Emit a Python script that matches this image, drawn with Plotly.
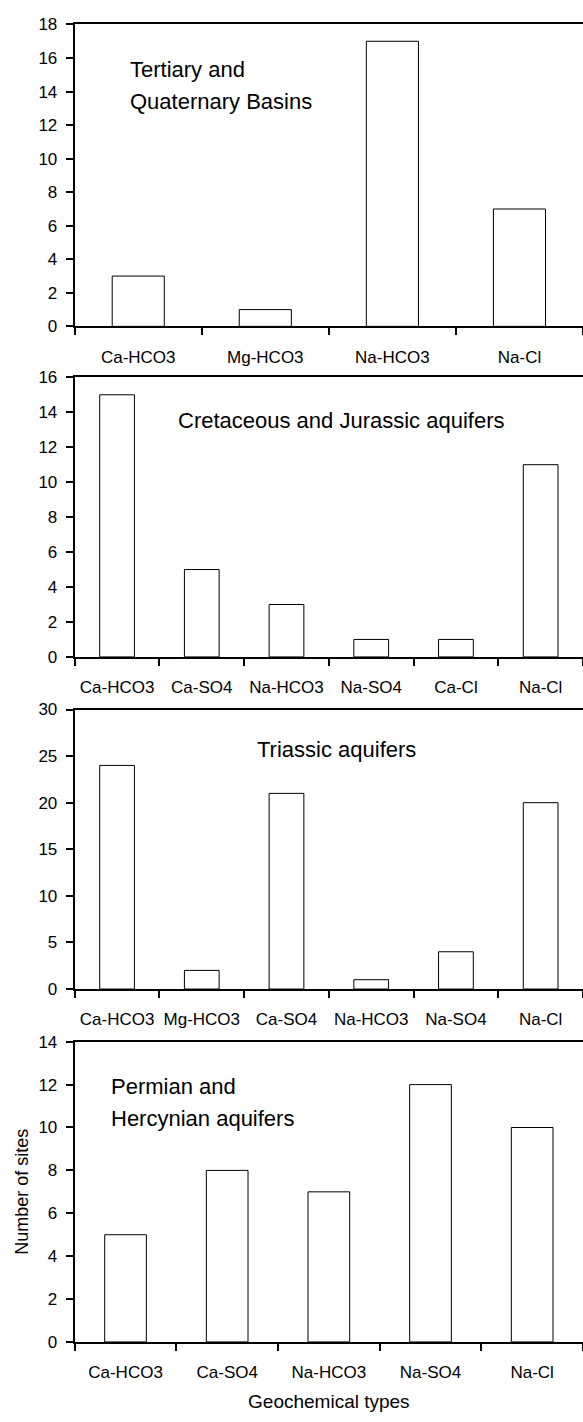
import plotly.graph_objects as go

# ---- data ----
cats1 = ["Ca-HCO3", "Mg-HCO3", "Na-HCO3", "Na-Cl"]
vals1 = [3, 1, 17, 7]
cats2 = ["Ca-HCO3", "Ca-SO4", "Na-HCO3", "Na-SO4", "Ca-Cl", "Na-Cl"]
vals2 = [15, 5, 3, 1, 1, 11]
cats3 = ["Ca-HCO3", "Mg-HCO3", "Ca-SO4", "Na-HCO3", "Na-SO4", "Na-Cl"]
vals3 = [24, 2, 21, 1, 4, 20]
cats4 = ["Ca-HCO3", "Ca-SO4", "Na-HCO3", "Na-SO4", "Na-Cl"]
vals4 = [5, 8, 7, 12, 10]

y_max = [18, 16, 30, 14]
y_step = [2, 2, 5, 2]

W, H = 583, 1422
FONT = "Liberation Sans, Arial, sans-serif"

# panel pixel geometry (top, bottom)
panels_px = [(15.7, 321.7), (373.3, 656.7), (710.0, 993.3), (1046.7, 1351.0)]
x_left, x_right = 74.7, 584.4


def px_x(x):
    return x / W


def px_y(y):
    return 1 - y / H


fig = go.Figure()
all_cats = [cats1, cats2, cats3, cats4]
all_vals = [vals1, vals2, vals3, vals4]

for i, (c, v) in enumerate(zip(all_cats, all_vals)):
    n = i + 1
    sfx = str(n) if n > 1 else ""
    fig.add_trace(go.Bar(
        x=c, y=v, xaxis="x" + sfx, yaxis="y" + sfx,
        marker=dict(color="white", line=dict(color="black", width=1)),
        width=0.41, showlegend=False, hoverinfo="skip",
    ))
    top, bot = panels_px[i]
    xa = dict(
        domain=[px_x(x_left), min(1.0, px_x(x_right))],
        anchor="y" + sfx,
        type="category",
        range=[-0.5, len(c) - 0.5],
        tickson="boundaries",
        tickangle=0,
        ticks="outside", ticklen=7, tickwidth=1.5, tickcolor="black",
        showline=True, linewidth=2, linecolor="black", mirror=True,
        showgrid=False, zeroline=False,
        tickfont=dict(family=FONT, size=17, color="black"),
        ticklabelstandoff=14,
    )
    ya = dict(
        domain=[px_y(bot), px_y(top)],
        anchor="x" + sfx,
        range=[0, y_max[i]],
        tickmode="array",
        tickvals=list(range(0, y_max[i] + 1, y_step[i])),
        ticks="outside", ticklen=7, tickwidth=1.5, tickcolor="black",
        showline=True, linewidth=2, linecolor="black",
        showgrid=False, zeroline=False,
        tickfont=dict(family=FONT, size=17, color="black"),
        ticklabelstandoff=5,
    )
    if n == 4:
        xa["title"] = dict(text="Geochemical types",
                           font=dict(family=FONT, size=19, color="black"), standoff=13)
        ya["title"] = dict(text="Number of sites",
                           font=dict(family=FONT, size=18, color="black"), standoff=5)
    fig.layout["xaxis" + sfx] = xa
    fig.layout["yaxis" + sfx] = ya

# panel captions (text, x, y, xanchor) in pixels
captions = [
    ("Tertiary and", 127.5, 61.0, "left"),
    ("Quaternary Basins", 127.5, 94.2, "left"),
    ("Cretaceous and Jurassic aquifers", 341.0, 417.5, "center"),
    ("Triassic aquifers", 336.0, 751.0, "center"),
    ("Permian and", 108.6, 1092.5, "left"),
    ("Hercynian aquifers", 108.6, 1125.0, "left"),
]
for t, x, y, xa_ in captions:
    fig.add_annotation(
        text=t, xref="paper", yref="paper", x=px_x(x), y=px_y(y),
        xanchor=xa_, yanchor="middle", align="left", showarrow=False,
        font=dict(family=FONT, size=22, color="black"),
    )

fig.update_layout(
    width=W, height=H,
    margin=dict(l=0, r=0, t=0, b=0),
    paper_bgcolor="white", plot_bgcolor="white",
    bargap=0.59,
    hovermode=False,
)
fig.write_html("out.html", config={"displayModeBar": False},
               post_script="document.body.style.margin='0';")
